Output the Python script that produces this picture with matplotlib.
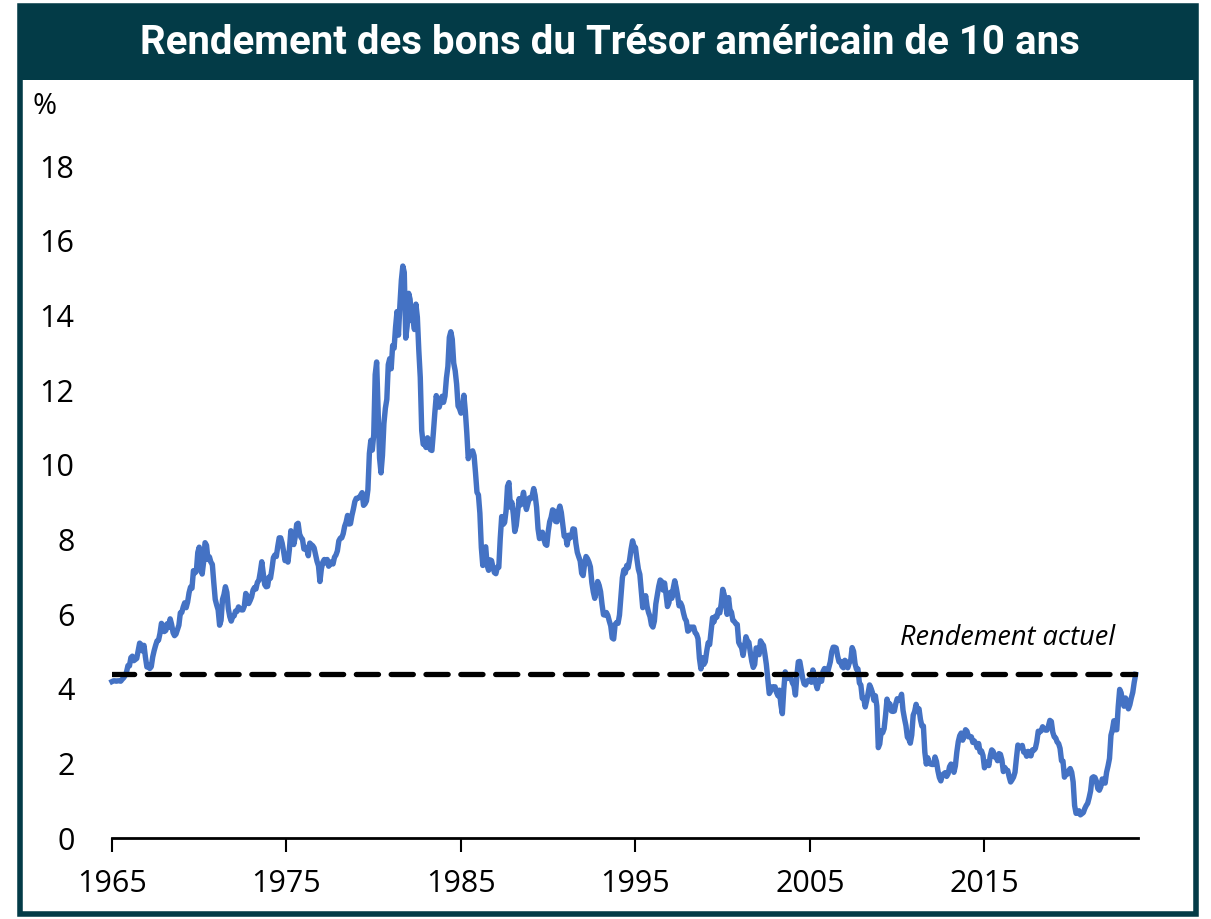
#!/usr/bin/env python3
"""
US 10-year Treasury yield, monthly, 1965 - Sep 2023, with the current yield
shown as a dashed reference line.
"""

import matplotlib.pyplot as plt
import numpy as np
from matplotlib.patches import Rectangle

TITLE = "Rendement des bons du Trésor américain de 10 ans"
START_YEAR = 1965
X_END = 2023.8
TICK_YEARS = [1965, 1975, 1985, 1995, 2005, 2015]
Y_TICKS = [0, 2, 4, 6, 8, 10, 12, 14, 16, 18]
CURRENT_YIELD = 4.4
CURRENT_LABEL = "Rendement actuel"

# monthly yields (%), one decade per list
yields_1965_1974 = [
    4.19, 4.21, 4.21, 4.20, 4.21, 4.21, 4.20, 4.25, 4.29, 4.35, 4.45, 4.62,
    4.61, 4.83, 4.87, 4.75, 4.78, 4.81, 5.02, 5.22, 5.18, 5.01, 5.16, 4.84,
    4.58, 4.63, 4.54, 4.59, 4.85, 5.02, 5.16, 5.28, 5.30, 5.48, 5.75, 5.70,
    5.53, 5.56, 5.74, 5.64, 5.87, 5.72, 5.50, 5.42, 5.46, 5.58, 5.70, 6.03,
    6.04, 6.19, 6.30, 6.17, 6.32, 6.57, 6.72, 6.69, 7.16, 7.10, 7.14, 7.65,
    7.79, 7.24, 7.07, 7.39, 7.91, 7.84, 7.46, 7.53, 7.39, 7.33, 6.84, 6.39,
    6.24, 6.11, 5.70, 5.83, 6.39, 6.52, 6.73, 6.58, 6.14, 5.93, 5.81, 5.93,
    5.95, 6.08, 6.07, 6.19, 6.13, 6.11, 6.11, 6.21, 6.55, 6.48, 6.28, 6.36,
    6.46, 6.64, 6.71, 6.67, 6.85, 6.90, 7.13, 7.40, 7.09, 6.79, 6.73, 6.74,
    6.99, 6.96, 7.21, 7.51, 7.58, 7.54, 7.81, 8.04, 8.04, 7.90, 7.68, 7.43,
]
yields_1975_1984 = [
    7.50, 7.39, 7.73, 8.23, 8.06, 7.86, 8.06, 8.40, 8.43, 8.14, 8.05, 8.00,
    7.74, 7.79, 7.73, 7.56, 7.90, 7.86, 7.83, 7.77, 7.59, 7.41, 7.29, 6.87,
    7.21, 7.39, 7.46, 7.37, 7.46, 7.28, 7.33, 7.40, 7.34, 7.52, 7.58, 7.69,
    7.96, 8.03, 8.04, 8.15, 8.35, 8.46, 8.64, 8.41, 8.42, 8.64, 8.81, 9.01,
    9.10, 9.10, 9.12, 9.18, 9.25, 8.91, 8.95, 9.03, 9.33, 10.30, 10.65, 10.39,
    10.80, 12.41, 12.75, 11.47, 10.18, 9.78, 10.25, 11.10, 11.51, 11.75, 12.68, 12.84,
    12.57, 13.19, 13.12, 13.68, 14.10, 13.47, 14.28, 14.94, 15.32, 15.15, 13.39, 13.72,
    14.59, 14.43, 13.86, 13.87, 13.62, 14.30, 13.95, 13.06, 12.34, 10.91, 10.55, 10.54,
    10.46, 10.72, 10.51, 10.40, 10.38, 10.85, 11.38, 11.85, 11.65, 11.54, 11.69, 11.83,
    11.67, 11.84, 12.32, 12.63, 13.41, 13.56, 13.36, 12.72, 12.52, 12.16, 11.57, 11.50,
]
yields_1985_1994 = [
    11.38, 11.51, 11.86, 11.43, 10.85, 10.16, 10.31, 10.33, 10.37, 10.24, 9.78, 9.26,
    9.19, 8.70, 7.78, 7.30, 7.71, 7.80, 7.30, 7.17, 7.45, 7.43, 7.25, 7.11,
    7.08, 7.25, 7.25, 8.02, 8.61, 8.40, 8.45, 8.76, 9.42, 9.52, 8.86, 8.99,
    8.67, 8.21, 8.37, 8.72, 9.09, 8.92, 9.06, 9.26, 8.98, 8.80, 8.96, 9.11,
    9.09, 9.17, 9.36, 9.18, 8.86, 8.28, 8.02, 8.11, 8.19, 8.01, 7.87, 7.84,
    8.21, 8.47, 8.59, 8.79, 8.76, 8.48, 8.47, 8.75, 8.89, 8.72, 8.39, 8.08,
    8.09, 7.85, 8.11, 8.04, 8.07, 8.28, 8.27, 7.90, 7.65, 7.53, 7.42, 7.09,
    7.03, 7.34, 7.54, 7.48, 7.39, 7.26, 6.84, 6.59, 6.42, 6.59, 6.87, 6.77,
    6.60, 6.26, 5.98, 5.97, 6.04, 5.96, 5.81, 5.68, 5.36, 5.33, 5.72, 5.77,
    5.75, 5.97, 6.48, 6.97, 7.18, 7.10, 7.30, 7.24, 7.46, 7.74, 7.96, 7.81,
]
yields_1995_2004 = [
    7.78, 7.47, 7.20, 7.06, 6.63, 6.17, 6.28, 6.49, 6.20, 6.04, 5.93, 5.71,
    5.65, 5.81, 6.27, 6.51, 6.74, 6.91, 6.87, 6.64, 6.83, 6.53, 6.20, 6.30,
    6.58, 6.42, 6.69, 6.89, 6.71, 6.49, 6.22, 6.30, 6.21, 6.03, 5.88, 5.81,
    5.54, 5.57, 5.65, 5.64, 5.65, 5.50, 5.46, 5.34, 4.81, 4.53, 4.83, 4.65,
    4.72, 5.00, 5.23, 5.18, 5.54, 5.90, 5.79, 5.94, 5.92, 6.11, 6.03, 6.28,
    6.66, 6.52, 6.26, 5.99, 6.44, 6.10, 6.05, 5.83, 5.80, 5.74, 5.72, 5.24,
    5.16, 5.10, 4.89, 5.14, 5.39, 5.28, 5.24, 4.97, 4.73, 4.57, 4.65, 5.09,
    5.04, 4.91, 5.28, 5.21, 5.16, 4.93, 4.65, 4.26, 3.87, 3.94, 4.05, 4.03,
    4.05, 3.90, 3.81, 3.96, 3.57, 3.33, 3.98, 4.45, 4.27, 4.29, 4.30, 4.27,
    4.15, 4.08, 3.83, 4.35, 4.72, 4.73, 4.50, 4.28, 4.13, 4.10, 4.19, 4.23,
]
yields_2005_2014 = [
    4.22, 4.17, 4.50, 4.34, 4.14, 4.00, 4.18, 4.26, 4.20, 4.46, 4.54, 4.47,
    4.42, 4.57, 4.72, 4.99, 5.11, 5.11, 5.09, 4.88, 4.72, 4.73, 4.60, 4.56,
    4.76, 4.72, 4.56, 4.69, 4.75, 5.10, 5.00, 4.67, 4.52, 4.53, 4.15, 4.10,
    3.74, 3.74, 3.51, 3.68, 3.88, 4.10, 4.01, 3.89, 3.69, 3.81, 3.53, 2.42,
    2.52, 2.87, 2.82, 2.93, 3.29, 3.72, 3.56, 3.59, 3.40, 3.39, 3.40, 3.59,
    3.73, 3.69, 3.73, 3.85, 3.42, 3.20, 3.01, 2.70, 2.65, 2.54, 2.76, 3.29,
    3.39, 3.58, 3.41, 3.46, 3.17, 3.00, 3.00, 2.30, 1.98, 2.15, 2.01, 1.98,
    1.97, 1.97, 2.17, 2.05, 1.80, 1.62, 1.53, 1.68, 1.72, 1.75, 1.65, 1.72,
    1.91, 1.98, 1.96, 1.76, 1.93, 2.30, 2.58, 2.74, 2.81, 2.62, 2.72, 2.90,
    2.86, 2.71, 2.72, 2.71, 2.56, 2.60, 2.54, 2.42, 2.53, 2.30, 2.33, 2.21,
]
yields_2015_2023 = [
    1.88, 1.98, 2.04, 1.94, 2.20, 2.36, 2.32, 2.17, 2.17, 2.07, 2.26, 2.24,
    2.09, 1.78, 1.89, 1.81, 1.81, 1.64, 1.50, 1.56, 1.63, 1.76, 2.14, 2.49,
    2.43, 2.42, 2.48, 2.30, 2.30, 2.19, 2.32, 2.21, 2.20, 2.36, 2.35, 2.40,
    2.58, 2.86, 2.84, 2.87, 2.98, 2.91, 2.89, 2.89, 3.00, 3.15, 3.12, 2.83,
    2.71, 2.68, 2.57, 2.53, 2.40, 2.07, 2.06, 1.63, 1.70, 1.71, 1.81, 1.86,
    1.76, 1.50, 0.87, 0.66, 0.67, 0.73, 0.62, 0.65, 0.68, 0.79, 0.87, 0.93,
    1.08, 1.26, 1.61, 1.64, 1.62, 1.52, 1.32, 1.28, 1.37, 1.58, 1.56, 1.47,
    1.76, 1.93, 2.13, 2.75, 2.90, 3.14, 2.90, 2.90, 3.52, 3.98, 3.89, 3.62,
    3.53, 3.75, 3.66, 3.46, 3.57, 3.75, 3.90, 4.17, 4.38,
]

DARK = "#033B47"
BLUE = "#4472C4"

W, H = 1211, 919


def px(x, y):
    """pixel (from top-left) -> figure fraction"""
    return x / W, 1 - y / H


yields = np.array(
    yields_1965_1974 + yields_1975_1984 + yields_1985_1994
    + yields_1995_2004 + yields_2005_2014 + yields_2015_2023
)
years = START_YEAR + np.arange(len(yields)) / 12.0

fig = plt.figure(figsize=(W / 100, H / 100), dpi=100)

# frame and title bar
fig.patches.append(Rectangle(px(20, 914), (1196 - 20) / W, (914 - 6) / H,
                             transform=fig.transFigure, facecolor="none",
                             edgecolor=DARK, linewidth=4, zorder=-2))
fig.patches.append(Rectangle(px(18, 80), (1198 - 18) / W, (80 - 4) / H,
                             transform=fig.transFigure, facecolor=DARK,
                             edgecolor="none", zorder=-1))
fig.text(610 / W, 1 - 43 / H, TITLE, color="white", fontsize=29,
         fontweight="bold", family="Roboto", ha="center", va="center")

left, bottom = px(112, 838)
right, top = px(1138, 166)
ax = fig.add_axes([left, bottom, right - left, top - bottom])
ax.set_facecolor("none")

ax.plot(years, yields, color=BLUE, linewidth=3.9, solid_joinstyle="round",
        zorder=3, clip_on=False)
ax.hlines(CURRENT_YIELD, START_YEAR, years[-1], colors="black", linewidth=3.8,
          linestyles=(0, (4.2, 2.4)), capstyle="round", zorder=4)
ax.text(2016.3, 5.35, CURRENT_LABEL, fontsize=19.5, style="italic",
        family="Open Sans", ha="center", va="center")

ax.set_xlim(START_YEAR, X_END)
ax.set_ylim(0, 18)
ax.set_xticks(TICK_YEARS)
ax.set_xticklabels([str(y) for y in TICK_YEARS], family="Open Sans", fontsize=22)
ax.set_yticks(Y_TICKS)
ax.set_yticklabels([str(v) for v in Y_TICKS], family="Open Sans", fontsize=22)
ax.tick_params(axis="x", direction="out", length=10, width=1.5, pad=12)
ax.tick_params(axis="y", length=0, pad=27)
for side in ("top", "right", "left"):
    ax.spines[side].set_visible(False)
ax.spines["bottom"].set_linewidth(2)

fig.text(32 / W, 1 - 107 / H, "%", family="Open Sans", fontsize=21,
         ha="left", va="center")

fig.savefig("out.png", dpi=100)
